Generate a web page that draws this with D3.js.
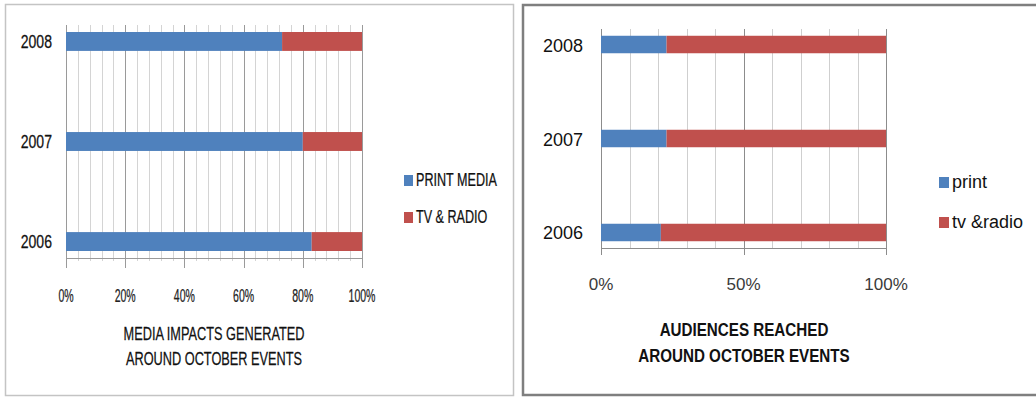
<!DOCTYPE html>
<html>
<head>
<meta charset="utf-8">
<script src="https://cdn.jsdelivr.net/npm/d3@7"></script>
<style>
  body { margin: 0; background: #fff; }
  svg { display: block; }
</style>
</head>
<body>
<div id="d3-container"></div>
<script>
// data
const years = ["2008", "2007", "2006"];
const seriesKeys = ["print", "tv"];

// left chart: media impacts (percent share)
const impactPrint = [73, 80, 83];
const impactTv = [27, 20, 17];
const impactLegend = ["PRINT MEDIA", "TV & RADIO"];
const impactTicks = [0, 20, 40, 60, 80, 100];
const impactTitle = ["MEDIA IMPACTS GENERATED", "AROUND OCTOBER EVENTS"];

// right chart: audiences reached (percent share)
const audiencePrint = [23, 23, 21];
const audienceTv = [77, 77, 79];
const audienceLegend = ["print", "tv &radio"];
const audienceTicks = [0, 50, 100];
const audienceTitle = ["AUDIENCES REACHED", "AROUND OCTOBER  EVENTS"];

// set up
const width = 1036;
const height = 397;
const color = d3.scaleOrdinal().domain(seriesKeys).range(["#4f81bd", "#c0504d"]);
const sans = '"Liberation Sans", Arial, sans-serif';

const svg = d3.select('#d3-container')
  .append('svg')
  .attr('width', width)
  .attr('height', height);

// panel frames
svg.append('rect')
  .attr('x', 5.5).attr('y', 4.5).attr('width', 508).attr('height', 391)
  .attr('fill', '#fff').attr('stroke', '#c4c4c4').attr('stroke-width', 1.5);
svg.append('rect')
  .attr('x', 523).attr('y', 5).attr('width', 530).attr('height', 390)
  .attr('fill', '#fff').attr('stroke', '#7f7f7f').attr('stroke-width', 2.5);

// text helper, lets us squeeze text horizontally
function label(g, x, y, s, o) {
  const fill = o.fill || '#111';
  return g.append('text')
    .attr('transform', `translate(${x},${y}) scale(${o.sx || 1},1)`)
    .attr('text-anchor', o.anchor || 'start')
    .attr('font-family', sans)
    .attr('font-size', o.size + 'px')
    .attr('font-weight', o.weight || 'normal')
    .attr('fill', fill)
    .attr('stroke', o.thick ? fill : 'none')
    .attr('stroke-width', o.thick || 0)
    .text(s);
}

function drawPanel(cfg) {
  const g = svg.append('g');
  const rows = years.map((y, i) => ({ year: y, print: cfg.print[i], tv: cfg.tv[i] }));
  const stacked = d3.stack().keys(seriesKeys)(rows);

  const x = d3.scaleLinear().domain([0, 100]).range([cfg.left, cfg.right]);
  const y = d3.scaleBand().domain(years).range([cfg.top, cfg.bottom])
    .paddingInner(cfg.padIn).paddingOuter(cfg.padOut);

  // gridlines (minor + major)
  const minor = d3.range(0, 100 + 1e-9, cfg.minorStep);
  g.append('g').selectAll('line')
    .data(minor)
    .join('line')
      .attr('x1', d => Math.round(x(d)) + 0.5).attr('x2', d => Math.round(x(d)) + 0.5)
      .attr('y1', cfg.top).attr('y2', cfg.bottom + cfg.minorTick)
      .attr('stroke', d => cfg.ticks.includes(Math.round(d)) ? cfg.majorColor : cfg.minorColor)
      .attr('stroke-width', 1);

  // x axis line and major ticks
  g.append('line')
    .attr('x1', x(0)).attr('x2', x(100))
    .attr('y1', cfg.bottom + 0.5).attr('y2', cfg.bottom + 0.5)
    .attr('stroke', cfg.majorColor);
  g.append('g').selectAll('line')
    .data(cfg.ticks)
    .join('line')
      .attr('x1', d => Math.round(x(d)) + 0.5).attr('x2', d => Math.round(x(d)) + 0.5)
      .attr('y1', cfg.bottom).attr('y2', cfg.bottom + cfg.majorTick)
      .attr('stroke', cfg.majorColor);

  // bars
  g.append('g').selectAll('g')
    .data(stacked)
    .join('g')
      .attr('fill', d => color(d.key))
    .selectAll('rect')
    .data(d => d)
    .join('rect')
      .attr('x', d => x(d[0]))
      .attr('y', d => y(d.data.year))
      .attr('width', d => x(d[1]) - x(d[0]))
      .attr('height', y.bandwidth());

  // y labels
  years.forEach(yr => {
    label(g, cfg.yLabelX, y(yr) + y.bandwidth() / 2 + cfg.yLabelDy, yr,
      { anchor: 'end', size: cfg.yLabelSize, sx: cfg.yLabelSx, thick: cfg.thick });
  });

  // x tick labels
  cfg.ticks.forEach(t => {
    label(g, x(t), cfg.tickY, t + '%',
      { anchor: 'middle', size: cfg.tickSize, sx: cfg.tickSx, fill: cfg.tickFill, thick: cfg.thick });
  });

  // legend
  seriesKeys.forEach((k, i) => {
    const ly = cfg.legendY[i];
    g.append('rect')
      .attr('x', cfg.legendX).attr('y', ly - cfg.swatchH)
      .attr('width', cfg.swatchW).attr('height', cfg.swatchH)
      .attr('fill', color(k));
    label(g, cfg.legendX + cfg.swatchW + 3, ly, cfg.legend[i],
      { size: cfg.legendSize, sx: cfg.legendSx, thick: cfg.thick });
  });

  // title under the chart
  cfg.title.forEach((t, i) => {
    label(g, cfg.titleX, cfg.titleY[i], t,
      { anchor: 'middle', size: cfg.titleSize, sx: cfg.titleSx, weight: cfg.titleWeight, thick: cfg.thick });
  });
}

drawPanel({
  print: impactPrint, tv: impactTv, ticks: impactTicks, legend: impactLegend, title: impactTitle,
  left: 66, right: 362, top: 25, bottom: 258, padIn: 0.811, padOut: 0.07,
  minorStep: 4, minorTick: 3, majorTick: 10,
  minorColor: '#d4d4d4', majorColor: '#9a9a9a', thick: 0.25,
  yLabelX: 52, yLabelDy: 6.5, yLabelSize: 18.5, yLabelSx: 0.76,
  tickY: 302, tickSize: 18.5, tickSx: 0.57, tickFill: '#222',
  legendX: 404, legendY: [186, 223], swatchW: 9, swatchH: 11, legendSize: 17.5, legendSx: 0.72,
  titleX: 214, titleY: [340, 365], titleSize: 18.5, titleSx: 0.69, titleWeight: 'normal'
});

drawPanel({
  print: audiencePrint, tv: audienceTv, ticks: audienceTicks, legend: audienceLegend, title: audienceTitle,
  left: 601, right: 886, top: 29, bottom: 248, padIn: 0.814, padOut: 0.072,
  minorStep: 10, minorTick: 0, majorTick: 7,
  minorColor: '#cfcfcf', majorColor: '#8c8c8c', thick: 0,
  yLabelX: 583, yLabelDy: 7, yLabelSize: 18, yLabelSx: 1,
  tickY: 290, tickSize: 17, tickSx: 1, tickFill: '#3a3a3a',
  legendX: 939, legendY: [188, 228], swatchW: 10, swatchH: 11, legendSize: 18, legendSx: 1,
  titleX: 744, titleY: [336, 362], titleSize: 19, titleSx: 0.8, titleWeight: 'bold'
});
</script>
</body>
</html>
